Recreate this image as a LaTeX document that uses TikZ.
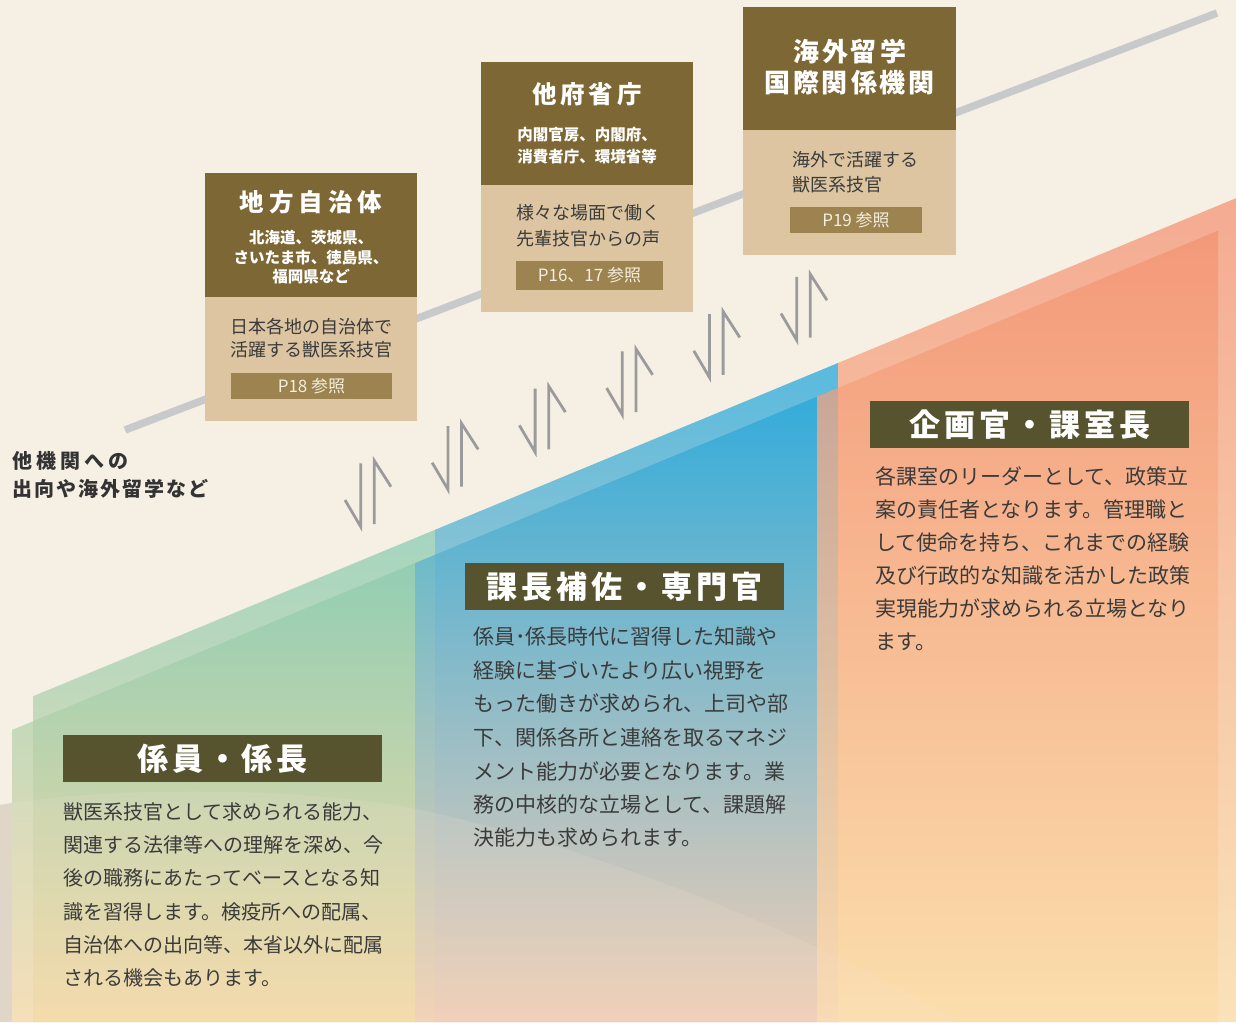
\documentclass[tikz,border=0pt]{standalone}
\usepackage{fontspec}
\setmainfont{Noto Sans CJK JP}
\definecolor{bg}{RGB}{246,240,228}
\definecolor{hdr}{RGB}{125,103,52}
\definecolor{cbody}{RGB}{220,197,160}
\definecolor{pbox}{RGB}{156,131,79}
\definecolor{ptxt}{RGB}{245,238,222}
\definecolor{lbl}{RGB}{88,83,47}
\definecolor{gline}{RGB}{200,201,203}
\definecolor{arr}{RGB}{155,155,157}
\definecolor{txt}{RGB}{59,59,59}
\definecolor{dark}{RGB}{51,51,51}
\definecolor{gsT}{RGB}{165,213,191}
\definecolor{gsB}{RGB}{245,223,180}
\definecolor{gdT}{RGB}{140,205,180}
\definecolor{gdB}{RGB}{245,218,165}
\definecolor{bsT}{RGB}{89,186,222}
\definecolor{bsB}{RGB}{242,213,191}
\definecolor{bdT}{RGB}{42,170,220}
\definecolor{bdB}{RGB}{241,205,180}
\definecolor{osT}{RGB}{244,171,145}
\definecolor{osB}{RGB}{250,226,185}
\definecolor{odT}{RGB}{243,150,120}
\definecolor{odB}{RGB}{251,222,172}
\definecolor{mgbT}{RGB}{110,186,201}
\definecolor{mgbB}{RGB}{242,208,177}
\definecolor{mboT}{RGB}{200,167,152}
\definecolor{mboB}{RGB}{249,218,174}
\definecolor{wave}{RGB}{200,190,175}
\definecolor{wavelight}{RGB}{245,228,210}
\newcommand\lsgap{}
\newcommand\spaced[2]{\renewcommand\lsgap{\hspace{#1}}\lsloop#2\lsend}
\def\lsloop#1#2\lsend{#1\ifx\relax#2\relax\else\lsgap\lsloop#2\lsend\fi}
% clipped vertical gradient: #1 clip path, #2 top colour, #3 bottom colour, #4 top y
\newcommand\gradregion[4]{\begin{scope}\clip #1;
  \shade[top color=#2, bottom color=#3] (0,#4) rectangle (1236,1022);\end{scope}}
\tikzset{
  hdrbox/.style={fill=hdr, inner sep=0, anchor=north west},
  bodybox/.style={fill=cbody, inner sep=0, anchor=north west},
  pboxst/.style={fill=pbox, text=ptxt, font=\fontsize{17}{20}\selectfont, inner sep=0},
  cardtitle/.style={text=white, font=\bfseries\fontsize{24.5}{28}\selectfont, inner sep=0},
  cardsub/.style={text=white, font=\bfseries\fontsize{15.5}{18}\selectfont, inner sep=0},
  cardtxt/.style={text=txt, font=\fontsize{18}{21}\selectfont, inner sep=0},
  lblbox/.style={fill=lbl, text=white, font=\bfseries\fontsize{31}{34}\selectfont,
    minimum width=319, minimum height=47, inner sep=0},
  coltxt/.style={text=txt, anchor=west, inner sep=0},
  sidelbl/.style={text=dark, anchor=west, inner sep=0, font=\bfseries\fontsize{20}{24}\selectfont},
  arrline/.style={draw=arr, line width=2.8},
}
\begin{document}
\begin{tikzpicture}[x=1pt,y=-1pt]
\useasboundingbox (0,0) rectangle (1236,1022);
\fill[bg] (0,0) rectangle (1236,1022);
% bottom wave (under the columns)
\fill[wave, fill opacity=0.55] (0,805) .. controls (80,790) and (250,785) .. (380,803)
  .. controls (500,820) and (750,900) .. (961,1022) -- (0,1022) -- cycle;
% single layers (light bands)
\gradregion{(33,696.3) -- (435,529.8) -- (435,1022) -- (33,1022) -- cycle}{gsT}{gsB}{530}
\gradregion{(12,730) -- (33,721.3) -- (33,1022) -- (12,1022) -- cycle}{gsT}{gsB}{530}
\gradregion{(435,529.8) -- (838,363) -- (838,1022) -- (435,1022) -- cycle}{bsT}{bsB}{363}
\gradregion{(838,363) -- (1236,198.2) -- (1236,1022) -- (838,1022) -- cycle}{osT}{osB}{198}
% double layers
\gradregion{(33,721.3) -- (415,563.1) -- (415,1022) -- (33,1022) -- cycle}{gdT}{gdB}{530}
\gradregion{(415,563.1) -- (435,554.8) -- (435,1022) -- (415,1022) -- cycle}{mgbT}{mgbB}{555}
\gradregion{(435,554.8) -- (817,396.7) -- (817,1022) -- (435,1022) -- cycle}{bdT}{bdB}{363}
\gradregion{(817,396.7) -- (838,388) -- (838,1022) -- (817,1022) -- cycle}{mboT}{mboB}{388}
\gradregion{(838,388) -- (1218,230.7) -- (1218,1022) -- (838,1022) -- cycle}{odT}{odB}{198}
% light wave over the columns
\fill[wavelight, fill opacity=0.16] (0,805) .. controls (80,790) and (250,785) .. (380,803)
  .. controls (500,820) and (750,900) .. (961,1022) -- (0,1022) -- cycle;
% gray diagonal line
\coordinate (ls) at (125,430);
\coordinate (le) at (1217,13);
\draw[gline, line width=7.5] (ls) -- (le);
% arrows
\foreach \i in {0,...,5}{
  \pgfmathsetmacro\xa{360.7+87.2*\i}
  \pgfmathsetmacro\ya{460.7-37.3*\i}
  \draw[arrline] (\xa,\ya+2.6) -- (\xa,\ya+66) -- (\xa-15.7,\ya+39.3);
  \draw[arrline] (\xa+13.6,\ya+63.3) -- (\xa+13.6,\ya) -- (\xa+30.3,\ya+26);
}
% card 1
\node[hdrbox, minimum width=212, minimum height=124] (c1h) at (205,173) {};
\node[bodybox, minimum width=212, minimum height=124] (c1b) at (205,297) {};
\node[cardtitle] (c1t) at (311,202) {\spaced{5pt}{地方自治体}};
\node[cardsub] (c1s1) at (311,238) {北海道、茨城県、};
\node[cardsub] (c1s2) at (311,258) {さいたま市、徳島県、};
\node[cardsub] (c1s3) at (311,277) {福岡県など};
\node[cardtxt] (c1x1) at (311,327) {日本各地の自治体で};
\node[cardtxt] (c1x2) at (311,350) {活躍する獣医系技官};
\node[pboxst, minimum width=161, minimum height=26] (c1p) at (311.5,386) {P18 参照};
% card 2
\node[hdrbox, minimum width=212, minimum height=123] (c2h) at (481,62) {};
\node[bodybox, minimum width=212, minimum height=127] (c2b) at (481,185) {};
\node[cardtitle] (c2t) at (587,94) {\spaced{4pt}{他府省庁}};
\node[cardsub] (c2s1) at (587,135) {内閣官房、内閣府、};
\node[cardsub] (c2s2) at (587,157) {消費者庁、環境省等};
\node[cardtxt] (c2x1) at (588,213) {様々な場面で働く};
\node[cardtxt] (c2x2) at (588,239) {先輩技官からの声};
\node[pboxst, minimum width=147, minimum height=29] (c2p) at (589.5,275.5) {P16、17 参照};
% card 3
\node[hdrbox, minimum width=213, minimum height=123] (c3h) at (743,7) {};
\node[bodybox, minimum width=213, minimum height=125] (c3b) at (743,130) {};
\node[cardtitle, font=\bfseries\fontsize{26}{30}\selectfont] (c3t1) at (849.5,52) {\spaced{3pt}{海外留学}};
\node[cardtitle, font=\bfseries\fontsize{26}{30}\selectfont] (c3t2) at (849.5,83) {\spaced{3pt}{国際関係機関}};
\node[cardtxt, anchor=west] (c3x1) at (792,160) {海外で活躍する};
\node[cardtxt, anchor=west] (c3x2) at (792,185) {獣医系技官};
\node[pboxst, minimum width=132, minimum height=26] (c3p) at (856,220) {P19 参照};
% side label
\node[sidelbl] (sl1) at (12,461) {\spaced{4pt}{他機関への}};
\node[sidelbl] (sl2) at (12,489) {\spaced{2pt}{出向や海外留学など}};
% column labels
\node[lblbox] (k1) at (222.5,758.5) {\spaced{4pt}{係員・係長}};
\node[lblbox] (k2) at (624.5,586.5) {\spaced{4pt}{課長補佐・専門官}};
\node[lblbox] (k3) at (1029.5,424.5) {\spaced{4pt}{企画官・課室長}};
% column texts
\begin{scope}[every node/.style={coltxt, font=\fontsize{20}{24}\selectfont}]
\node (a1) at (63,812) {獣医系技官として求められる能力、};
\node (a2) at (63,845.2) {関連する法律等への理解を深め、今};
\node (a3) at (63,878.4) {後の職務にあたってベースとなる知};
\node (a4) at (63,911.6) {識を習得します。検疫所への配属、};
\node (a5) at (63,944.8) {自治体への出向等、本省以外に配属};
\node (a6) at (63,978) {される機会もあります。};
\end{scope}
\begin{scope}[every node/.style={coltxt, font=\fontsize{21}{25}\selectfont}]
\node (b1) at (473,637) {係員･係長時代に習得した知識や};
\node (b2) at (473,670.5) {経験に基づいたより広い視野を};
\node (b3) at (473,704) {もった働きが求められ、上司や部};
\node (b4) at (473,737.5) {下、関係各所と連絡を取るマネジ};
\node (b5) at (473,771) {メント能力が必要となります。業};
\node (b6) at (473,804.5) {務の中核的な立場として、課題解};
\node (b7) at (473,838) {決能力も求められます。};
\node (r1) at (875,476) {各課室のリーダーとして、政策立};
\node (r2) at (875,509.2) {案の責任者となります。管理職と};
\node (r3) at (875,542.4) {して使命を持ち、これまでの経験};
\node (r4) at (875,575.6) {及び行政的な知識を活かした政策};
\node (r5) at (875,608.8) {実現能力が求められる立場となり};
\node (r6) at (875,642) {ます。};
\end{scope}
\end{tikzpicture}
\end{document}
